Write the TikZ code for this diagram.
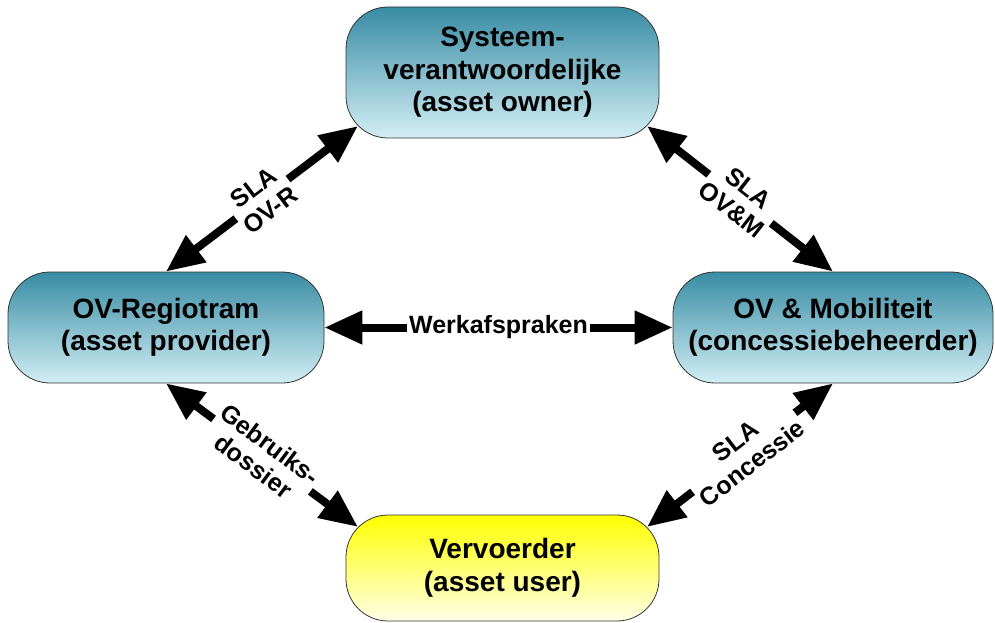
\documentclass[tikz,border=0pt]{standalone}
\usepackage{fontspec}
\setmainfont{Liberation Sans}
\usetikzlibrary{arrows.meta}
\definecolor{tealtop}{RGB}{56,140,164}
\definecolor{tealbot}{RGB}{210,238,244}
\definecolor{yeltop}{RGB}{255,255,0}
\definecolor{yelbot}{RGB}{255,255,232}
\begin{document}
\begin{tikzpicture}[x=1pt,y=-1pt,
  party/.style={draw=black!80, line width=0.8pt, rounded corners=42pt, align=center, inner sep=0pt,
    font=\fontsize{28}{32.5}\selectfont\bfseries, top color=tealtop, bottom color=tealbot},
  link/.style={line width=8pt, {Triangle[length=38pt,width=32pt]}-{Triangle[length=38pt,width=32pt]}},
  tag/.style={fill=white, inner sep=2pt, align=center, sloped,
    font=\fontsize{25}{27.5}\selectfont\bfseries}]
  \useasboundingbox (0,0) rectangle (995,623);

  % the four parties
  \node[party, minimum width=313pt, minimum height=131pt] (owner) at (502.5,72.5)
    {Systeem-\\verantwoordelijke\\(asset owner)};
  \node[party, minimum width=316pt, minimum height=111pt] (provider) at (166,327.5)
    {OV-Regiotram\\(asset provider)};
  \node[party, minimum width=320pt, minimum height=111pt] (manager) at (833,327.5)
    {OV \& Mobiliteit\\(concessiebeheerder)};
  \node[party, minimum width=313pt, minimum height=106pt, top color=yeltop, bottom color=yelbot] (user) at (502.5,568)
    {Vervoerder\\(asset user)};

  % agreements
  \draw[link] (provider.north) -- node[tag] {SLA\\OV-R} ([shift={(12.3,-12.3)}]owner.south west);
  \draw[link] ([shift={(-12.3,-12.3)}]owner.south east) -- node[tag] {SLA\\OV\&M} (manager.north);
  \draw[link] (provider.east) -- node[tag] {Werkafspraken} (manager.west);
  \draw[link] (provider.south) -- node[tag] {Gebruiks-\\dossier} ([shift={(12.3,12.3)}]user.north west);
  \draw[link] ([shift={(-12.3,12.3)}]user.north east) -- node[tag, pos=0.52] {SLA\\Concessie} (manager.south);
\end{tikzpicture}
\end{document}
